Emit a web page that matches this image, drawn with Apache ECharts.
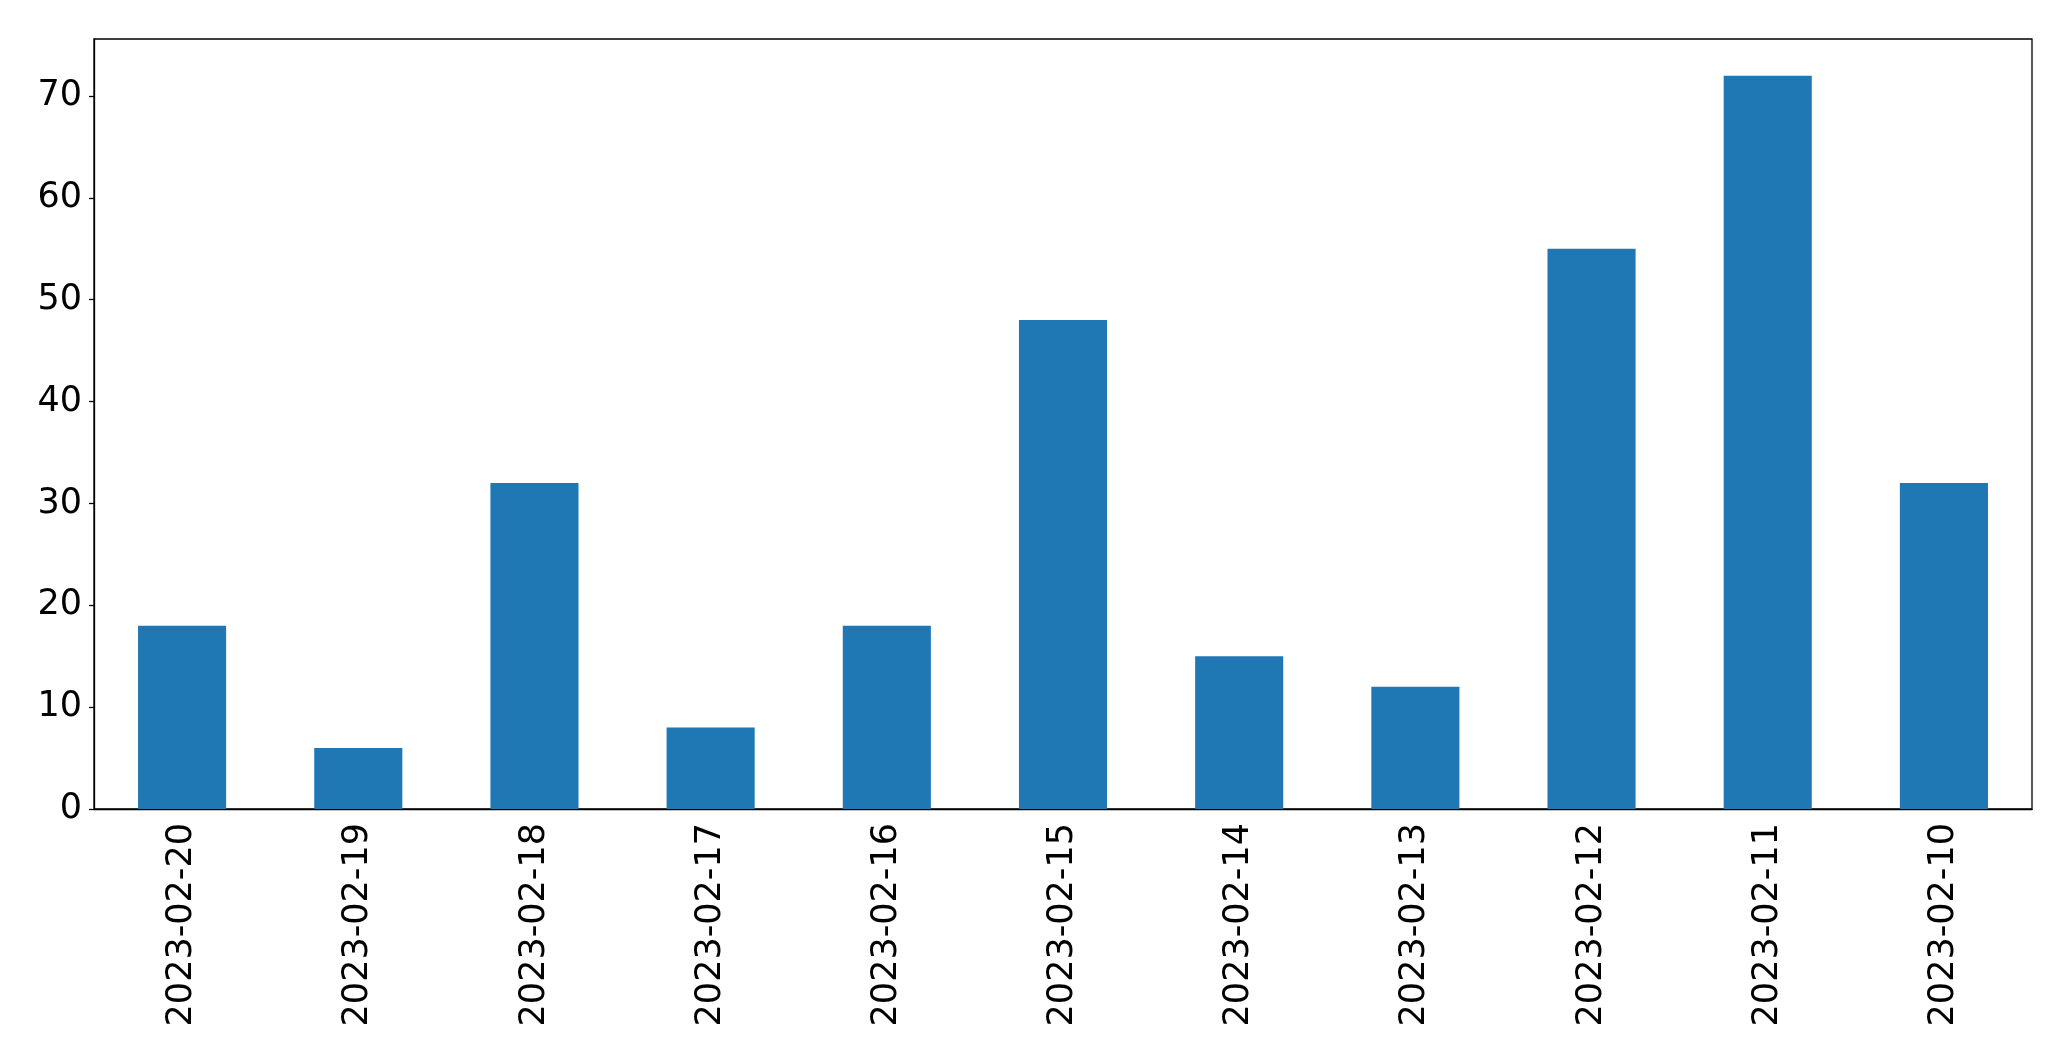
<!DOCTYPE html>
<html>
<head>
<meta charset="utf-8">
<script src="https://cdn.jsdelivr.net/npm/echarts@6/dist/echarts.min.js"></script>
<style>
html,body{margin:0;padding:0;background:#fff;}
#chart{width:2071px;height:1061px;}
</style>
</head>
<body>
<div id="chart"></div>
<script>
const categories = ['2023-02-20','2023-02-19','2023-02-18','2023-02-17','2023-02-16','2023-02-15','2023-02-14','2023-02-13','2023-02-12','2023-02-11','2023-02-10'];
const values = [18, 6, 32, 8, 18, 48, 15, 12, 55, 72, 32];
const yMin = 0;
const yMax = 75.6;
const yInterval = 10;

const chart = echarts.init(document.getElementById('chart'), null, {renderer: 'canvas'});
chart.setOption({
  animation: false,
  backgroundColor: '#ffffff',
  grid: {
    left: 94, right: 39, top: 39, bottom: 252,
    show: true, borderColor: '#000000', borderWidth: 1.3, backgroundColor: 'transparent'
  },
  xAxis: {
    type: 'category',
    data: categories,
    axisLine: {lineStyle: {color: '#000000', width: 1.3}},
    axisTick: {alignWithLabel: true, length: 5, lineStyle: {color: '#000000', width: 1.3}},
    axisLabel: {
      rotate: 90, margin: 14, color: '#000000',
      fontFamily: 'DejaVu Sans', fontSize: 35, interval: 0
    },
    splitLine: {show: false}
  },
  yAxis: {
    type: 'value',
    min: yMin, max: yMax, interval: yInterval,
    axisLine: {show: true, lineStyle: {color: '#000000', width: 1.3}},
    axisTick: {show: true, length: 5, lineStyle: {color: '#000000', width: 1.3}},
    axisLabel: {
      color: '#000000', fontFamily: 'DejaVu Sans', fontSize: 35, margin: 12,
      showMaxLabel: false
    },
    splitLine: {show: false}
  },
  series: [{
    type: 'bar',
    data: values,
    barWidth: '50%',
    itemStyle: {color: '#1f77b4'}
  }]
});
</script>
</body>
</html>
